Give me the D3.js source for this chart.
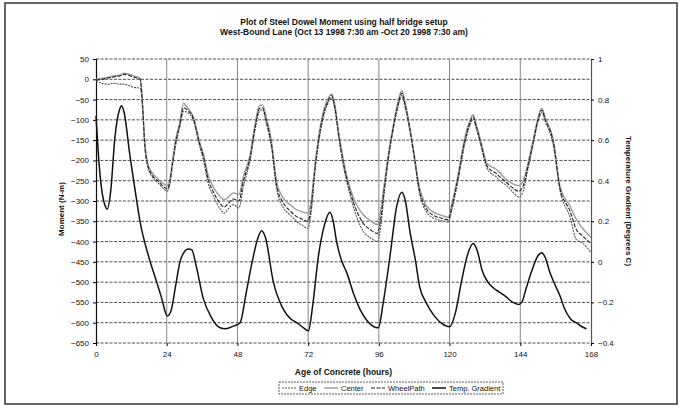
<!DOCTYPE html>
<html>
<head>
<meta charset="utf-8">
<script src="https://cdn.jsdelivr.net/npm/d3@7"></script>
<style>
  body { margin: 0; background: #fff; }
  svg text { font-family: "Liberation Sans", Arial, sans-serif; fill: #111; }
</style>
</head>
<body>
<div id="chart"></div>
<script>
const width = 681;
const height = 408;

// moment series (N-m)
const hours = [0, 2, 4, 6, 8, 9.5, 11, 13, 15, 15.8, 16.5, 17.5, 19, 21, 23, 24.2, 25, 26, 27, 28.5,
  29.7, 31, 33, 35, 36.5, 38, 40, 42, 43.5, 45, 46.6, 48.5, 50, 52.3, 54, 55.5, 56.5, 58, 59.5, 61.3,
  63.6, 66, 68, 70, 72, 73, 74.5, 75.5, 77, 79, 80, 81, 82.5, 84, 86.2, 88.5, 90.7, 93, 95.5, 96.5,
  98, 99.2, 101, 102.5, 103.8, 105, 107.7, 109.8, 112, 114, 117, 119.5, 121, 123, 125, 127, 128, 129,
  130.5, 132.6, 134, 135.5, 137, 139.4, 141.5, 143.5, 145, 146.5, 148.4, 150, 151.3, 152.5, 155.2,
  157.5, 160.9, 163, 165, 168];

const center = [0, 2, 5, 8, 10, 15, 13, 8, 2, -60, -150, -205, -230, -245, -258, -262, -250, -200, -150, -104,
  -59, -70, -92, -150, -186, -235, -268, -288, -297, -290, -280, -284, -240, -186, -110, -65, -63, -100, -150, -252,
  -293, -310, -321, -327, -330, -300, -200, -145, -85, -45, -36, -60, -137, -200, -268, -310, -334, -348, -358, -330,
  -250, -186, -110, -55, -28, -60, -170, -268, -310, -325, -335, -340, -300, -230, -150, -100, -87, -110,
  -149, -206, -215, -220, -230, -248, -258, -262, -250, -210, -149, -95, -71, -95, -149,
  -264, -313, -345, -366, -390];

const edge = [-5, -10, -12, -10, -12, -12, -15, -20, -22, -70, -160, -215, -240, -255, -270, -276, -262, -210, -165, -115,
  -79, -82, -100, -160, -200, -255, -290, -318, -330, -318, -309, -317, -265, -200, -125, -78, -75, -115, -165, -270,
  -317, -335, -350, -360, -367, -330, -215, -160, -100, -55, -45, -72, -150, -215, -284, -340, -375, -390, -400, -370,
  -270, -200, -120, -68, -40, -72, -180, -282, -325, -340, -348, -352, -315, -245, -165, -112, -98, -120,
  -160, -218, -232, -238, -250, -262, -278, -290, -275, -225, -160, -105, -82, -105, -162,
  -275, -340, -395, -403, -427];

const wheelPath = [-2, 0, 3, 6, 8, 12, 10, 5, 0, -65, -155, -210, -236, -250, -265, -270, -256, -205, -158, -110,
  -70, -76, -96, -155, -192, -245, -280, -305, -315, -305, -295, -300, -252, -193, -118, -72, -70, -108, -158, -262,
  -305, -325, -338, -345, -350, -315, -208, -152, -92, -50, -40, -66, -144, -208, -276, -325, -355, -370, -380, -350,
  -260, -193, -115, -62, -34, -66, -175, -275, -318, -333, -342, -346, -308, -238, -158, -106, -92, -115,
  -155, -212, -224, -230, -240, -255, -268, -276, -262, -218, -155, -100, -76, -100, -155,
  -270, -325, -370, -385, -405];

// temperature gradient (Degrees C), right axis
const tempHours = [0, 0.8, 1.9, 3, 3.8, 5, 6.4, 8.1, 8.7, 9.5, 11.5, 13.2, 15, 17.8, 20.6, 22.3, 24.2, 25.5, 27, 28.5,
  30, 31.3, 32.5, 34, 36.4, 39, 42.1, 44, 46.6, 48.9, 51, 53, 55, 56.2, 57.5, 60.2, 63.6, 66, 68.1, 70, 72.1,
  73.5, 75.5, 77.5, 79.4, 80.5, 81.7, 83.5, 85.1, 87.5, 89.6, 92, 95.8, 97.5, 99.8, 102, 103.8, 105, 106.6,
  108.5, 109.8, 112, 115, 118, 120, 122, 124, 126, 128, 129.5, 131, 133, 135, 137, 139, 141.5, 143.5, 144.5,
  146, 148, 150, 151.3, 152.5, 154, 156, 157.5, 159, 161, 163, 165, 166.5];

const tempGradient = [0.72, 0.53, 0.36, 0.28, 0.26, 0.35, 0.61, 0.756, 0.77, 0.74, 0.525, 0.36, 0.195, 0.03, -0.10, -0.18, -0.267, -0.24, -0.12, 0,
  0.05, 0.063, 0.06, -0.02, -0.18, -0.27, -0.325, -0.33, -0.317, -0.30, -0.15, 0, 0.12, 0.153, 0.12, -0.10, -0.234, -0.28, -0.30, -0.32, -0.34,
  -0.22, 0.03, 0.18, 0.244, 0.2, 0.096, 0.0, -0.053, -0.16, -0.234, -0.29, -0.325, -0.2, 0.03, 0.27, 0.343, 0.3, 0.145,
  0.0, -0.12, -0.2, -0.27, -0.31, -0.32, -0.25, -0.1, 0.03, 0.09, 0.05, -0.04, -0.1, -0.13, -0.15, -0.17, -0.2, -0.21, -0.2,
  -0.13, -0.04, 0.03, 0.045, 0.02, -0.05, -0.12, -0.168, -0.23, -0.28, -0.3, -0.32, -0.33];

const xTicks = [0, 24, 48, 72, 96, 120, 144, 168];
const yTicks = d3.range(50, -651, -50);
const y2Ticks = [1, 0.8, 0.6, 0.4, 0.2, 0, -0.2, -0.4];
const legendNames = ["Edge", "Center", "WheelPath", "Temp. Gradient"];

const margin = {top: 59, right: 90, bottom: 65, left: 96};

const svg = d3.select("#chart").append("svg")
    .attr("width", width)
    .attr("height", height);

// outer chart border
svg.append("rect")
    .attr("x", 5).attr("y", 3)
    .attr("width", 672).attr("height", 401)
    .attr("fill", "none")
    .attr("stroke", "#333")
    .attr("stroke-width", 1.5);

const x = d3.scaleLinear().domain([0, 168]).range([margin.left, width - margin.right]);
const y = d3.scaleLinear().domain([-650, 50]).range([height - margin.bottom, margin.top]);
const y2 = d3.scaleLinear().domain([-0.4, 1]).range([height - margin.bottom, margin.top]);

// grid
const grid = svg.append("g");
grid.selectAll("line.h")
    .data(yTicks)
    .enter().append("line")
    .attr("x1", x(0)).attr("x2", x(168))
    .attr("y1", d => y(d)).attr("y2", d => y(d))
    .attr("stroke", "#222")
    .attr("stroke-width", 0.8)
    .attr("stroke-dasharray", "3,1.5");
grid.selectAll("line.v")
    .data(xTicks.slice(1, -1))
    .enter().append("line")
    .attr("x1", d => x(d)).attr("x2", d => x(d))
    .attr("y1", y(50)).attr("y2", y(-650))
    .attr("stroke", "#777")
    .attr("stroke-width", 0.9);

// axes
svg.append("g")
    .attr("transform", `translate(${margin.left},0)`)
    .call(d3.axisLeft(y).tickValues(yTicks).tickSize(3).tickFormat(d3.format("d")))
    .call(g => g.select(".domain").attr("stroke", "#111").attr("stroke-width", 1.2))
    .call(g => g.selectAll("text").attr("font-size", 8).attr("x", -7));

svg.append("g")
    .attr("transform", `translate(${width - margin.right},0)`)
    .call(d3.axisRight(y2).tickValues(y2Ticks).tickSize(3).tickFormat(d => d3.format("")(+d.toFixed(1))))
    .call(g => g.select(".domain").attr("stroke", "#555").attr("stroke-width", 1.2))
    .call(g => g.selectAll("text").attr("font-size", 8).attr("x", 7));

svg.append("g")
    .attr("transform", `translate(0,${height - margin.bottom})`)
    .call(d3.axisBottom(x).tickValues(xTicks).tickSize(3))
    .call(g => g.select(".domain").remove())
    .call(g => g.selectAll("text").attr("font-size", 8).attr("y", 8));

// series
const momentLine = vals => d3.line()
    .x((d, i) => x(hours[i]))
    .y(d => y(d))
    .curve(d3.curveMonotoneX)(vals);

const series = [
  {name: legendNames[0], vals: edge, stroke: "#555", width: 1.1, dash: "2,1"},
  {name: legendNames[1], vals: center, stroke: "#999", width: 1.4, dash: null},
  {name: legendNames[2], vals: wheelPath, stroke: "#222", width: 1.1, dash: "4,1.5"}
];

svg.append("g").selectAll("path")
    .data(series)
    .enter().append("path")
    .attr("d", d => momentLine(d.vals))
    .attr("fill", "none")
    .attr("stroke", d => d.stroke)
    .attr("stroke-width", d => d.width)
    .attr("stroke-dasharray", d => d.dash);

svg.append("path")
    .attr("d", d3.line()
        .x((d, i) => x(tempHours[i]))
        .y(d => y2(d))
        .curve(d3.curveMonotoneX)(tempGradient))
    .attr("fill", "none")
    .attr("stroke", "#111")
    .attr("stroke-width", 1.5);

// titles
svg.append("text")
    .attr("x", 344).attr("y", 25)
    .attr("text-anchor", "middle")
    .attr("font-size", 8.5).attr("font-weight", "bold")
    .text("Plot of Steel Dowel Moment using half bridge setup");
svg.append("text")
    .attr("x", 344).attr("y", 35)
    .attr("text-anchor", "middle")
    .attr("font-size", 8.5).attr("font-weight", "bold")
    .text("West-Bound Lane (Oct 13 1998 7:30 am -Oct 20 1998 7:30 am)");

svg.append("text")
    .attr("transform", `translate(64,${(y(50) + y(-650)) / 2 + 8}) rotate(-90)`)
    .attr("text-anchor", "middle")
    .attr("font-size", 8).attr("font-weight", "bold")
    .text("Moment (N-m)");

svg.append("text")
    .attr("transform", `translate(626,${(y(50) + y(-650)) / 2}) rotate(90)`)
    .attr("text-anchor", "middle")
    .attr("font-size", 8).attr("font-weight", "bold")
    .text("Temperature Gradient (Degrees C)");

svg.append("text")
    .attr("x", (x(0) + x(168)) / 2).attr("y", 375)
    .attr("text-anchor", "middle")
    .attr("font-size", 8.5).attr("font-weight", "bold")
    .text("Age of Concrete (hours)");

// legend, laid out left to right by measured text width
const legendStyles = series.map(s => ({name: s.name, stroke: s.stroke, width: s.width, dash: s.dash}))
    .concat([{name: legendNames[3], stroke: "#111", width: 1.5, dash: null}]);

const legend = svg.append("g");
const box = legend.append("rect")
    .attr("y", 382)
    .attr("height", 12)
    .attr("fill", "#fff")
    .attr("stroke", "#333")
    .attr("stroke-width", 0.8)
    .attr("stroke-dasharray", "2,1");

let cx = 0;
legendStyles.forEach(d => {
  legend.append("line")
      .attr("x1", cx).attr("x2", cx + 14)
      .attr("y1", 388).attr("y2", 388)
      .attr("stroke", d.stroke)
      .attr("stroke-width", d.width)
      .attr("stroke-dasharray", d.dash);
  const t = legend.append("text")
      .attr("x", cx + 17).attr("y", 391)
      .attr("font-size", 7.5)
      .attr("fill", "#111")
      .text(d.name);
  cx = Math.round(cx + 17 + t.node().getComputedTextLength() + 7);
});
const legendW = cx - 7;
const legendX = Math.round(391 - legendW / 2);
legend.selectAll("line, text").attr("transform", `translate(${legendX},0)`);
box.attr("x", legendX - 3).attr("width", legendW + 6);
</script>
</body>
</html>
